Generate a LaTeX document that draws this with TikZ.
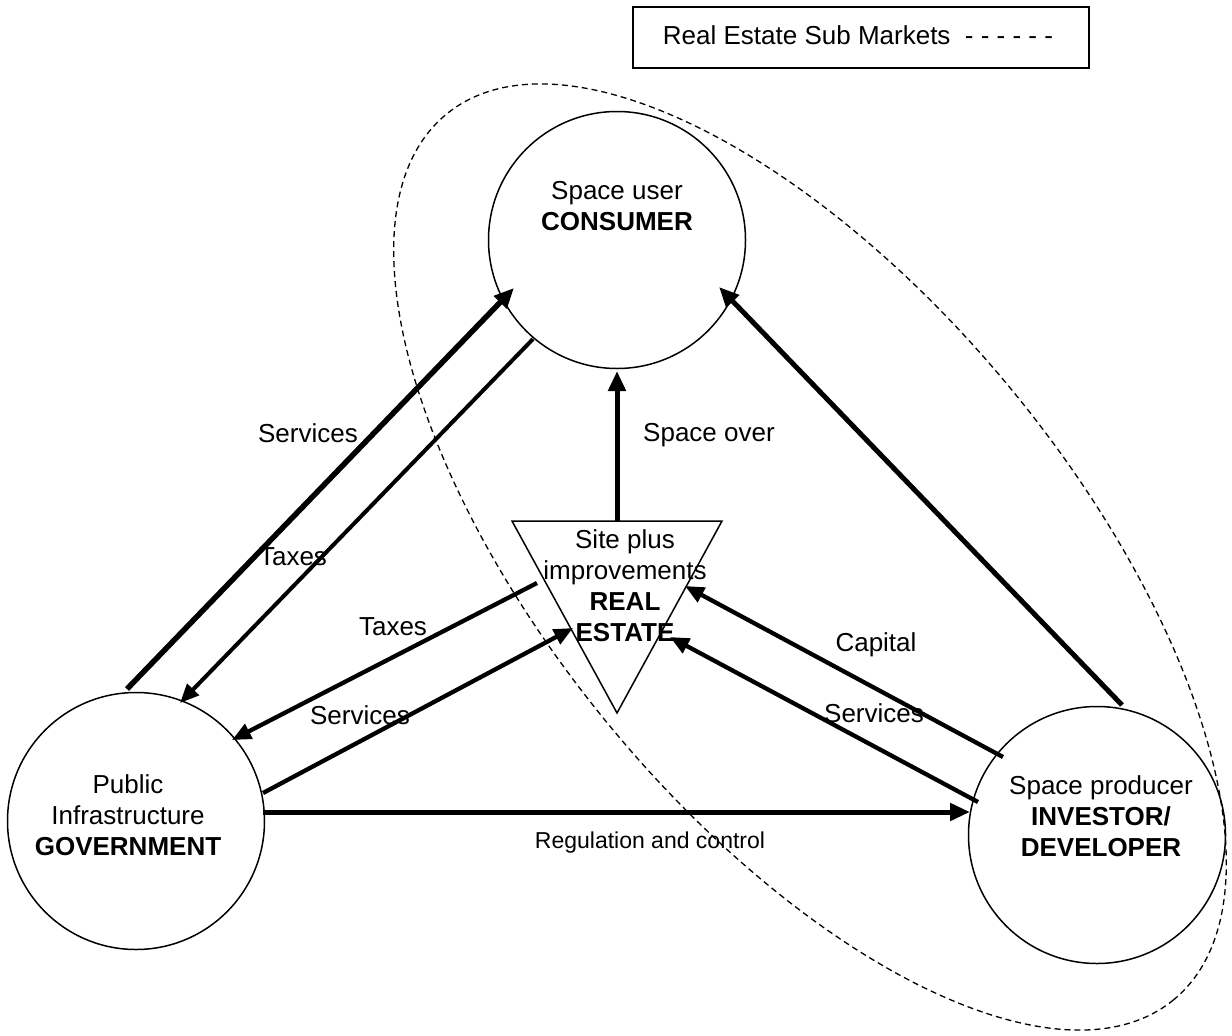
\documentclass[tikz,border=0pt]{standalone}
\usepackage{fontspec}
\setmainfont{Liberation Sans}
\usetikzlibrary{arrows.meta}
\begin{document}
\begin{tikzpicture}[x=1pt,y=-1pt,
  ring/.style={circle,draw,line width=1.5pt,minimum size=257pt,inner sep=0pt},
  txt/.style={font=\fontsize{26}{31}\selectfont,inner sep=0pt,align=center},
  small/.style={font=\fontsize{23}{27}\selectfont,inner sep=0pt},
  heavy/.style={line width=5pt,-{Triangle[length=20pt,width=17pt]}},
  medium/.style={line width=4.3pt,-{Triangle[length=19pt,width=16pt]}},
]
\useasboundingbox (0,0) rectangle (1232,1036);

% legend
\node[draw,line width=1.5pt,minimum width=456pt,minimum height=61pt,inner sep=0pt] (legend) at (861,37.5) {};
\node[txt] (legendtxt) at (858,35) {Real Estate Sub Markets~ - - - - - -};

% sub-market boundary
\draw[line width=1.3pt,dash pattern=on 6pt off 4pt,rotate around={-50.6:(810,557)}]
  (810,557) ellipse [x radius=573, y radius=262];

% actors
\node[ring] (cons) at (617,240) {};
\node[ring] (gov) at (136,821) {};
\node[ring] (inv) at (1097,835) {};
\node[txt] (constxt) at (617,206) {Space user\\\textbf{CONSUMER}};
\node[txt] (govtxt) at (128,815) {Public\\Infrastructure\\\textbf{GOVERNMENT}};
\node[txt] (invtxt) at (1101,816) {Space producer\\\textbf{INVESTOR/}\\\textbf{DEVELOPER}};

% real estate triangle
\coordinate (reTL) at (512,521);
\coordinate (reTR) at (722,521);
\coordinate (reB) at (617,713);
\coordinate (reTop) at (617,521);
\draw[line width=1.5pt] (reTL) -- (reTR) -- (reB) -- cycle;
\node[txt] (retxt) at (625,586) {Site plus\\improvements\\\textbf{REAL}\\\textbf{ESTATE}};

% connector end points
\coordinate (g1) at (127,689);  \coordinate (c1) at (514,288);
\coordinate (c2) at (533,339);  \coordinate (g2) at (180,703);
\coordinate (r3) at (537,583);  \coordinate (g3) at (232,740);
\coordinate (g4) at (263,793);  \coordinate (r4) at (573,628);
\coordinate (g5) at (263,812);  \coordinate (i5) at (970,812);
\coordinate (c6) at (617,371);
\coordinate (i7) at (1122,705); \coordinate (c7) at (719,287);
\coordinate (i8) at (1003,757); \coordinate (r8) at (685,586);
\coordinate (i9) at (978,802);  \coordinate (r9) at (670,637);

\draw[heavy,line width=5.5pt] (g1) -- (c1);
\draw[medium,line width=4pt] (c2) -- (g2);
\draw[medium] (r3) -- (g3);
\draw[medium] (g4) -- (r4);
\draw[heavy] (g5) -- (i5);
\draw[heavy] (reTop) -- (c6);
\draw[heavy] (i7) -- (c7);
\draw[medium] (i8) -- (r8);
\draw[medium] (i9) -- (r9);

% labels
\node[txt] (l1) at (308,433) {Services};
\node[txt] (l2) at (293,557) {Taxes};
\node[txt] (l3) at (393,627) {Taxes};
\node[txt] (l4) at (360,715) {Services};
\node[txt] (l6) at (709,435) {Space over};
\node[txt] (l8) at (876,645) {Capital};
\node[txt] (l9) at (874,713) {Services};
\node[small] (l5) at (650,843) {Regulation and control};
\end{tikzpicture}
\end{document}
